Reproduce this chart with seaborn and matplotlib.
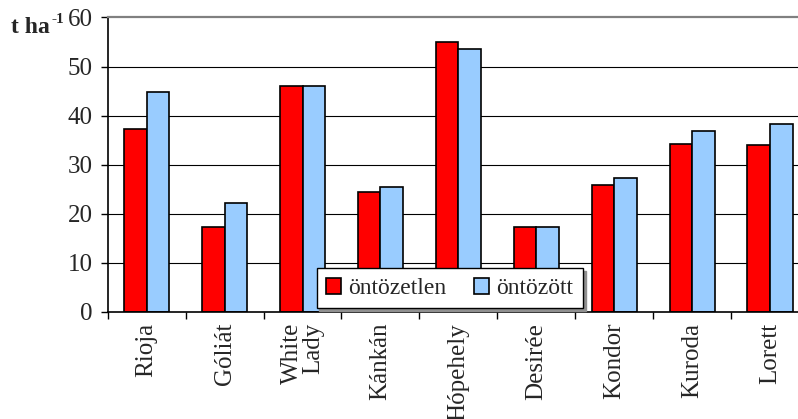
import matplotlib
matplotlib.use("Agg")
import matplotlib.pyplot as plt
import seaborn as sns
import pandas as pd
from matplotlib.patches import Patch

varieties = ["Rioja", "Góliát", "White\nLady", "Kánkán", "Hópehely",
             "Desirée", "Kondor", "Kuroda", "Lorett"]
ontozetlen = [37.2, 17.3, 46.0, 24.4, 55.1, 17.3, 25.8, 34.2, 33.9]
ontozott = [44.9, 22.2, 46.0, 25.4, 53.6, 17.3, 27.2, 36.8, 38.2]
series = ["öntözetlen", "öntözött"]
colors = ["#FF0000", "#99CCFF"]
yticks = [0, 10, 20, 30, 40, 50, 60]

df = pd.DataFrame({
    "fajta": varieties * 2,
    "hozam": ontozetlen + ontozott,
    "kezeles": [series[0]] * len(varieties) + [series[1]] * len(varieties),
})

sns.set_style("white")
plt.rcParams["font.family"] = ["Liberation Serif", "DejaVu Serif"]

FS = 18
W, H = 798, 419
fig = plt.figure(figsize=(W / 100, H / 100), dpi=100)
left, right, top, bottom = 107.7, 809.0, 17.5, 311.7
ax = fig.add_axes([left / W, 1 - bottom / H, (right - left) / W, (bottom - top) / H])

sns.barplot(data=df, x="fajta", y="hozam", hue="kezeles", palette=colors,
            width=0.58, gap=0, edgecolor="black", linewidth=1.2,
            saturation=1, legend=False, ax=ax)

ax.set_ylim(0, 60)
ax.set_xlim(-0.5, len(varieties) - 0.5)
ax.set_yticks(yticks)
ax.set_yticklabels([str(t) for t in yticks], fontsize=FS)
ax.set_axisbelow(True)
for t in yticks[1:-1]:
    ax.axhline(t, color="black", lw=0.8, zorder=0)

ax.set_xlabel("")
ax.set_ylabel("")
ax.set_xticks(range(len(varieties)))
ax.set_xticklabels(varieties, rotation=90, fontsize=FS, va="top", ha="center",
                   multialignment="right", linespacing=1.0)
ax.set_xticks([i - 0.5 for i in range(len(varieties) + 1)], minor=True)
ax.tick_params(axis="x", which="major", length=0, pad=8)
ax.tick_params(axis="x", which="minor", length=5, width=1, color="black",
               direction="out", bottom=True)
ax.tick_params(axis="y", length=5, width=1, color="black", direction="out",
               left=True, pad=6)

for side in ("left", "bottom"):
    ax.spines[side].set_color("black")
    ax.spines[side].set_linewidth(1.2)
ax.spines["top"].set_color("#808080")
ax.spines["top"].set_linewidth(1.6)
ax.spines["right"].set_visible(False)

handles = [Patch(facecolor=c, edgecolor="black", linewidth=1.2) for c in colors]
leg = fig.legend(handles, series, loc="upper left",
                 bbox_to_anchor=(316.7 / W, 1 - 268.3 / H),
                 ncol=2, fontsize=17, frameon=True, fancybox=False,
                 shadow={"color": "#909090", "alpha": 1},
                 edgecolor="black", framealpha=1,
                 handlelength=0.65, handleheight=0.65, handletextpad=0.3,
                 columnspacing=1.15, borderpad=0.4, borderaxespad=0)
leg.get_frame().set_linewidth(1.0)

# unit label: bold "t ha" with a raised "-1"
fig.text(11 / W, 1 - 33 / H, "t ha", fontsize=17, fontweight="bold",
         ha="left", va="baseline")
fig.text(51 / W, 1 - 23 / H, "-1", fontsize=11, fontweight="bold",
         ha="left", va="baseline")

fig.savefig("out.png", dpi=100)
